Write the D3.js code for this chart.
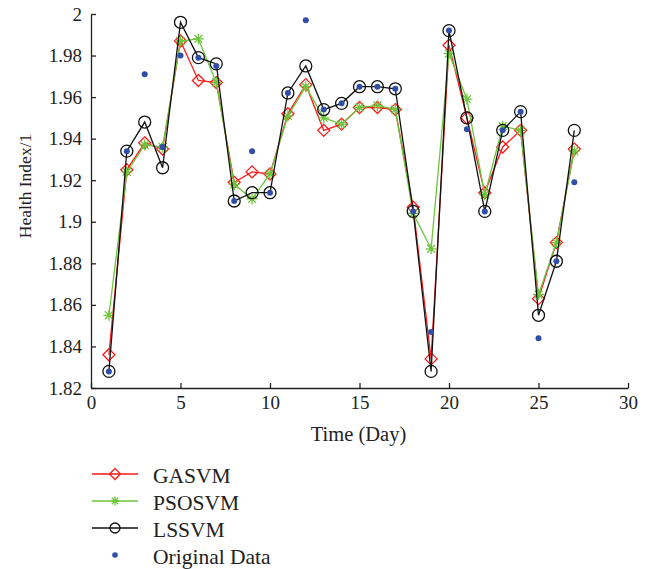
<!DOCTYPE html>
<html><head><meta charset="utf-8">
<script src="https://cdn.jsdelivr.net/npm/d3@7"></script>
<style>body{margin:0;background:#fff}svg{display:block}text{font-family:"Liberation Serif","DejaVu Serif",serif;fill:#222}</style>
</head><body><svg id="c" width="649" height="569"></svg>
<script>
const days = d3.range(1, 28);
const gasvm = [1.836,1.925,1.938,1.935,1.987,1.968,1.967,1.919,1.924,1.923,1.952,1.966,1.944,1.947,1.955,1.955,1.954,1.907,1.834,1.985,1.950,1.914,1.936,1.944,1.863,1.890,1.935];
const psosvm = [1.855,1.924,1.937,1.936,1.987,1.988,1.967,1.918,1.911,1.923,1.951,1.965,1.950,1.947,1.955,1.956,1.954,1.904,1.887,1.981,1.959,1.913,1.946,1.944,1.865,1.890,1.934];
const lssvm = [1.828,1.934,1.948,1.926,1.996,1.979,1.976,1.910,1.914,1.914,1.962,1.975,1.954,1.957,1.965,1.965,1.964,1.905,1.828,1.992,1.950,1.905,1.944,1.953,1.855,1.881,1.944];
const original = [1.828,1.934,1.971,1.936,1.980,1.979,1.975,1.910,1.934,1.914,1.962,1.997,1.954,1.957,1.965,1.965,1.964,1.905,1.847,1.992,1.9445,1.905,1.944,1.953,1.844,1.881,1.919];
const xTicks = [0,5,10,15,20,25,30];
const yTicks = [1.82,1.84,1.86,1.88,1.9,1.92,1.94,1.96,1.98,2];
const seriesNames = ["GASVM","PSOSVM","LSSVM","Original Data"];
const colors = {GASVM:"#ff1a1a", PSOSVM:"#6cc63c", LSSVM:"#111111", Orig:"#2f4ea8"};

const svg = d3.select("#c");
const L = 91, R = 628, T = 14, B = 388;
const x = d3.scaleLinear().domain([0,30]).range([L,R]);
const y = d3.scaleLinear().domain([1.82,2]).range([B,T]);

// axes
const xa = svg.append("g").attr("transform",`translate(0,${B})`)
  .call(d3.axisBottom(x).tickValues(xTicks).tickSizeInner(-5).tickSizeOuter(0).tickPadding(7.5).tickFormat(d3.format("d")));
const ya = svg.append("g").attr("transform",`translate(${L},0)`)
  .call(d3.axisLeft(y).tickValues(yTicks).tickSizeInner(-5).tickSizeOuter(0).tickPadding(9).tickFormat(d=>String(+d.toFixed(2))));
[xa,ya].forEach(a=>{
  a.selectAll("path").attr("stroke","#222").attr("stroke-width",1.3);
  a.selectAll("line").attr("stroke","#222").attr("stroke-width",1.3);
  a.selectAll("text").style("font-family",'"Liberation Serif",serif').style("font-size","19px").attr("fill","#222");
});

svg.append("text").attr("x",(L+R)/2-1).attr("y",441).attr("text-anchor","middle").style("font-size","20.5px").text("Time (Day)");
svg.append("text").attr("transform",`translate(31,186) rotate(-90)`).attr("text-anchor","middle").style("font-size","17.5px").text("Health Index/1");

const line = d3.line().x((d,i)=>x(days[i])).y(d=>y(d));

function diamond(g, cx, cy, s, col){
  g.append("path").attr("d",`M${cx},${cy-s}L${cx+s},${cy}L${cx},${cy+s}L${cx-s},${cy}Z`).attr("fill","none").attr("stroke",col).attr("stroke-width",1.3);
}
function star(g, cx, cy, s, col){
  const d = s*0.72;
  g.append("path").attr("d",`M${cx-s},${cy}L${cx+s},${cy}M${cx},${cy-s}L${cx},${cy+s}M${cx-d},${cy-d}L${cx+d},${cy+d}M${cx-d},${cy+d}L${cx+d},${cy-d}`).attr("stroke",col).attr("stroke-width",1.3);
}
function circ(g, cx, cy, r, col){
  g.append("circle").attr("cx",cx).attr("cy",cy).attr("r",r).attr("fill","none").attr("stroke",col).attr("stroke-width",1.3);
}

const gG = svg.append("g");
gG.append("path").datum(gasvm).attr("d",line).attr("fill","none").attr("stroke",colors.GASVM).attr("stroke-width",1.3);
gasvm.forEach((v,i)=>diamond(gG,x(days[i]),y(v),6,colors.GASVM));
const gP = svg.append("g");
gP.append("path").datum(psosvm).attr("d",line).attr("fill","none").attr("stroke",colors.PSOSVM).attr("stroke-width",1.3);
psosvm.forEach((v,i)=>star(gP,x(days[i]),y(v),5.5,colors.PSOSVM));
const gL = svg.append("g");
gL.append("path").datum(lssvm).attr("d",line).attr("fill","none").attr("stroke",colors.LSSVM).attr("stroke-width",1.3);
lssvm.forEach((v,i)=>circ(gL,x(days[i]),y(v),6,colors.LSSVM));
const gO = svg.append("g");
gO.selectAll("circle").data(original).join("circle").attr("cx",(d,i)=>x(days[i])).attr("cy",d=>y(d)).attr("r",3).attr("fill",colors.Orig);

// legend
const lg = svg.append("g");
const rows = [474,501,528,555];
const lx1 = 92, lx2 = 138, lm = 115, tx = 153;
seriesNames.forEach((n,i)=>{
  const yy = rows[i];
  if(i<3){
    const col = [colors.GASVM,colors.PSOSVM,colors.LSSVM][i];
    lg.append("line").attr("x1",lx1).attr("x2",lx2).attr("y1",yy).attr("y2",yy).attr("stroke",col).attr("stroke-width",1.3);
    if(i===0) diamond(lg,lm,yy,5.5,col);
    if(i===1) star(lg,lm,yy,4.5,col);
    if(i===2) circ(lg,lm,yy,5,col);
  } else {
    lg.append("circle").attr("cx",lm).attr("cy",yy).attr("r",2.8).attr("fill",colors.Orig);
  }
  lg.append("text").attr("x",tx).attr("y",yy+8.5).style("font-size","21.5px").text(n);
});
</script></body></html>
